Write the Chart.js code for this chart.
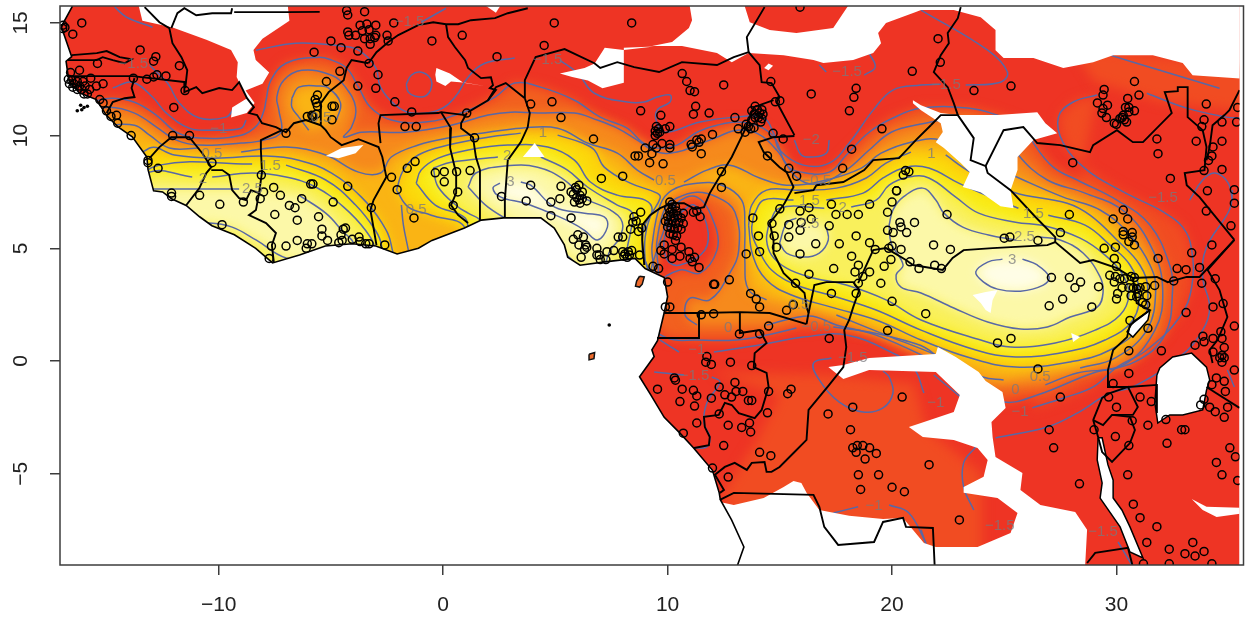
<!DOCTYPE html>
<html>
<head>
<meta charset="utf-8">
<style>body{margin:0;background:#fff}canvas{display:block}</style>
<script src="https://cdn.jsdelivr.net/npm/chart.js@4"></script>
</head>
<body>
<canvas id="map" width="1245" height="617"></canvas>
<script>
const xTicks = [-10, 0, 10, 20, 30];
const yTicks = [-5, 0, 5, 10, 15];

// contour rings, [lon, lat], null = gap for a label
const c_m05 = [[-15.74,11.48],[-14.77,11.66],[-13.75,11.48],[-12.77,10.9],[-11.88,10.15],[-10.86,9.89],[-9,10.02],[-8.29,10.46],[-7.98,11.13],[-7.89,11.57],[-7.67,12.46],[-7,13.21],[-5.54,13.48],[-4.97,13.35],[-4.3,13],[-3.77,12.15],[-3.24,11.26],[-2.31,10.69],[-0.8,10.6],[0.8,11],[2.31,11.71],[3.19,12.33],[4.35,12.15],[5.85,11.57],[7,10.82],[8.2,10.33],[8.87,9.71],[9.53,9.45],[10.42,9.58],[11.31,10.15],[12.2,10.46],[13.08,10.6],[14.06,10.42],[14.77,9.89],[15.3,8.69],[15.96,8.38],[17.2,8.38],[17.96,9.14],[18.98,10.15],[20.04,10.78],[21.29,11.22],[23.37,11.22],[24.7,10.91],[25.94,10.46],[26.3,9.67],[27.18,8.6],[28.25,8.03],[30.02,7.14],[31.49,6.03],[32.37,4.26],[32.5,3.15],[32.15,1.15],[30.82,-0.04],[28.96,-0.53],[26.47,-1.51],[24.97,-1.82],[23.28,-1.06],[21.64,0.49],[20.49,0.93],[18.98,1.29],[17.38,1.51],null,[15.74,1.46],[14.41,1.15],[13.08,0.93],[11.31,0.93],[9.98,1.02],[9.09,1.82],[9.53,3.37],[10.55,4.04],[11.44,3.9],[12.2,4.92],[12.11,6.03],[11.31,7.27],[10.33,6.92],[9.76,5.59],[9.31,4.26],[8.87,2.93],[5.1,2.93],[-2,2.93],[-7.76,2.93],[-15.74,6.25],[-17.07,9.36],[-15.74,11.48]];
const c_000 = [[-15.83,11.04],[-14.86,11.26],[-13.75,11],[-12.77,10.38],[-11.88,9.8],[-10.86,9.58],[-9,9.67],[-7.98,9.8],[-7.23,10.15],[-7.32,11.13],[-7.41,11.71],[-7.1,12.46],[-6.3,12.9],[-4.97,12.68],[-4.35,12.15],[-3.9,11.26],[-4.08,10.38],[-4.43,9.93],[-3.64,10.15],[-1.69,10.15],[0.35,10.46],[2,10.91],[3.02,11.04],[4.21,11],[5.85,11],[6.87,10.69],[7.76,10.33],[8.65,9.8],[9.53,9.27],[10.42,9.27],[11.31,9.58],[12.2,9.93],[13.08,10.24],[13.97,10.11],[14.86,9.36],[15.74,8.16],[16.63,7.85],[17.96,8.47],[18.98,9.36],[19.96,10.15],[21.29,10.51],[23.28,10.78],[25.06,10.24],[25.63,9.14],[26.92,8.03],[28.6,7.45],[30.38,6.61],[31.62,4.92],[32.06,3.15],[31.71,1.37],[30.29,-0.18],[28.25,-0.53],[26.83,-1.06],null,[24.17,-1.15],[21.95,-0.04],[19.29,1.15],[17.52,1.6],[16.32,2],[14.41,1.6],null,[11.31,1.6],[10.78,2.04],[11,2.79],[11.88,2.71],[12.77,3.9],[13.17,4.92],[13,6.61],[12.2,7.27],[11.31,7.49],[10.42,7.23],[9.89,6.78],[9.53,5.37],[9.31,3.37],[5.1,2.71],[-2,2.71],[-7.76,2.71],[-15.74,6.03],[-16.85,8.91],[-15.83,11.04]];
const c_050 = [[-15.08,10.46],[-13.75,10.46],[-13.08,10.02],[-12.2,9.45],[-10.86,9.45],null,[-9,9.27],[-7,9.49],[-5.23,9.14],[-3.77,8.38],[-2.79,8.34],[-2.31,9.05],[-1.11,9.58],[0.22,9.89],[2,10.15],[3.46,10.33],[5.1,10.33],[6.43,9.67],[7.76,9.22],[8.65,8.47],[9.4,8.03],null,[10.73,7.94],[11.75,8.47],[12.77,8.69],[14.1,8.12],[15.3,7.8],[17.07,8.03],[18.63,8.56],[19.51,9.22],[20.84,9.71],[22.17,9.8],[23.95,8.91],[25.85,8.03],[27.63,7.27],[29.27,6.7],[30.6,5.59],[31.49,4.26],[31.75,3.15],[31.35,1.37],[29.93,0.13],[28.38,-0.31],null,[24.97,-0.84],[24.04,-0.71],[21.95,0.27],[19.73,1.15],[17.52,2.04],null,[14.41,2.71],[13.61,3.15],[13.44,4.48],[13.44,6.03],[13.3,7.14],[12.42,7.8],[11.31,7.89],[10.2,7.58],[9.67,6.92],[9.31,5.14],[9.18,3.37],[5.1,2.48],[-2,2.48],[-7.76,2.48],[-15.3,5.8],[-15.08,10.46]];
const c_050_mali = [[-6.74,11.66],[-6.43,12.15],[-5.54,12.2],[-5.1,12.11],[-4.57,11.44],[-4.75,10.69],null,[-5.99,10.24],[-6.43,10.82],[-6.74,11.26],[-6.74,11.66]];
const c_100_west = [[-14.41,8.03],[-13.08,9.45],[-11.97,9.14],[-10.2,9],[-7.89,9.09],[-6.43,8.91],[-4.97,8.34],[-3.64,7.27],[-2.75,6.16],[-2.31,5.14],[-2.22,3.15],[-7.76,3.15],[-14.41,5.8],[-14.41,8.03]];
const c_150_west = [[-14.19,7.58],[-12.64,8.69],[-8.51,8.74],null,[-7,8.69],[-5.23,8.03],[-3.9,6.92],[-3.02,5.8],[-2.75,5.14],[-2.66,3.37],[-7.76,3.15],[-13.97,5.8],[-14.19,7.58]];
const c_200_west = [[-13.97,7.14],[-13.08,8.38],[-11.18,8.16],null,[-10.29,8.16],[-8.51,8.34],[-7,8.16],[-5.68,7.72],[-4.43,6.83],[-3.46,5.8],[-3.02,4.92],[-3.02,3.59],[-7.76,3.15],[-13.53,5.8],[-13.97,7.14]];
const c_250_west = [[-13.53,7.63],[-12.95,7.63],[-9.09,7.63],null,[-6.43,7.36],[-5.23,6.56],[-4.52,5.8],[-3.99,5.14],[-4.66,4.26],[-7,4.57],[-8.34,5.37],[-9.4,5.94],[-10.42,6.12],[-11.75,6.03],[-13.53,7.63]];
const c_100_nig = [[-2.08,7.58],[-1.77,8.47],[-1.11,9.14],[0.22,9.58],[2,9.93],[3.46,10.11],null,[5.1,10.02],[6.21,9.67],[6.74,9.36],[7.18,8.6],[8.34,7.89],[9.53,7.45],[9.67,7.23],[9.22,6.39],[9,5.5],[9,4.48],[9.18,3.37],[1.11,3.37],[0.98,5.9],[-0.53,6.47],[-1.55,6.83],[-2.08,7.58]];
const c_150_nig = [[-1.2,7.89],[-0.98,8.47],[-0.22,9],[1.11,9.36],[2.88,9.58],[4.66,9.49],[5.85,8.91],[6.56,7.94],[7.76,7.36],[9,7.14],[9.31,6.7],[8.96,5.94],[8.87,4.92],[9.09,3.59],[1.55,3.59],[1.11,5.37],[0.98,6.34],[-0.35,6.92],[-1.2,7.89]];
const c_200_nig = [[-0.44,8.56],[0.35,8.82],[2.44,9.05],null,[4.35,9.05],[5.54,8.47],[6.43,7.72],[7.76,6.92],[8.43,6.56],[8.34,5.68],[8.2,4.92],[8.29,3.59],[1.77,4.04],[1.69,6.16],[1.11,6.56],[0.67,6.83],[-0.22,7.72],[-0.44,8.56]];
const c_250_nig = [[1.11,7.72],[1.46,8.34],[2.75,8.65],[4.21,8.6],[5.41,8.03],[6.3,7.23],[7.45,6.7],[7.98,6.16],[7.85,5.45],[7.45,4.92],[6.87,3.81],[4.66,5.37],[3.33,6.03],[2,6.83],[1.11,7.72]];
const c_300_nig = [[3.46,7.94],[3.9,7.8],[4.97,6.83],[6.3,6.56],[7.18,6.39],[7.32,5.94],[6.87,5.37],[6.3,5.8],[5.68,6.16],[4.79,6.56],[3.64,7],[2.57,7.27],[2.22,7.67],[2.53,7.89]];
const c_100_car = [[13.61,6.03],[13.75,6.92],[14.41,7.58],[15.74,7.58],[17.52,7.67],[18.85,8.12],[19.73,8.78],[20.84,9.27],null,[22.39,9.14],[23.5,8.38],[25.41,7.49],[27.8,7],[28.82,6.47],[30.02,5.37],[31.04,4.26],[31.4,3.15],[31.09,1.6],[29.71,0.49],[27.94,-0.04],[25.5,-0.27],[23.5,0.13],[21.29,0.93],[19.29,1.82],[17.29,2.39],[15.52,2.93],[14.41,3.59],[13.79,4.7],[13.61,6.03]];
const c_150_car = [[13.84,6.47],[14.28,7.14],[15.61,7.14],null,[17.07,7.14],[18.71,7.45],[19.6,8.12],[20.62,8.6],[21.64,8.56],[22.97,7.89],[24.17,7.36],[25.63,6.78],null,[26.96,6.47],[28.6,6.03],[29.71,5.14],[30.6,4.26],[31,3.15],[30.73,1.82],[29.49,0.93],[27.72,0.4],[25.5,0.18],[23.73,0.49],[21.29,1.37],[19.29,2.26],[17.52,2.84],[15.74,3.37],[14.63,4.04],[14.06,4.92],[13.75,5.72],[13.84,6.47]];
const c_200_car = [[14.5,6.03],[14.99,6.78],[16.98,6.78],null,[18.18,6.83],[19.29,7.14],[19.87,7.8],[20.75,8.16],[21.64,8.12],[22.84,7.27],[23.86,6.56],[25.5,6.16],[26.83,5.99],[28.38,5.45],[29.49,4.7],[30.29,3.81],[30.55,2.93],[30.16,2.04],[29.05,1.37],[27.27,0.8],[25.28,0.62],[23.95,0.93],[21.29,1.82],[19.73,2.71],[17.96,3.37],[16.32,3.73],[15.3,4.12],[14.63,4.7],[14.41,5.37],[14.5,6.03]];
const c_250_car = [[14.99,5.23],[15.3,6.12],[15.74,6.34],null,[17.07,5.94],[17.16,5.37],[16.76,4.79],[16.05,4.61],[15.3,4.79],[14.99,5.23]];
const c_250_drc = [[19.87,6.03],[20.04,6.7],[20.49,7.27],[21.37,7.67],[21.95,7.14],[22.31,6.56],[23.15,5.94],[24.3,5.59],[25.5,5.37],null,[26.61,5.5],[27.49,5.37],[28.51,4.79],[29.27,3.73],[29.4,3.02],[29.14,2.39],[27.94,1.95],[26.92,1.51],[25.72,1.42],[24.26,1.73],[22.75,2.35],[21.29,3.02],[20.4,3.28],[20.18,3.81],[20.49,4.26],[19.96,5.23],[19.87,6.03]];
const c_300_drc = [[24.92,4.52],[24.26,4.39],[23.73,3.95],[24.08,3.5],[24.7,3.19],[25.72,3.1],[26.74,3.37],[27,3.73],[26.47,4.26],[25.81,4.52]];

// order matters: painted low to high
const fieldRings = [c_m05, c_000, c_050, c_050_mali, c_100_west, c_100_nig, c_100_car, c_150_west, c_150_nig, c_150_car, c_200_west, c_200_nig, c_200_car, c_250_west, c_250_nig, c_250_car, c_250_drc, c_300_nig, c_300_drc];
const fieldLevels = [-0.5, 0, 0.5, 0.5, 1, 1, 1, 1.5, 1.5, 1.5, 2, 2, 2, 2.5, 2.5, 2.5, 2.5, 3, 3];
const levelColors = {'-1':'#f14c22','-0.5':'#f2601f','0':'#f68a1c','0.5':'#fab414','1':'#fcd80b','1.5':'#f9ec18','2':'#f9f05c','2.5':'#fcf8a8','3':'#fffde6'};

// slightly lighter red patches below the first drawn contour
const underSouth = [[12,-0.5],[17,-0.6],[21,-1],[21.5,-3],[24,-5],[24,-8.8],[14,-8.5],[12.4,-6],[14,-3.5],[15,-1.5]];
const underNorthEast = [[28,14],[33,13.4],[36,12.9],[36,11],[32,11.5],[29,12.4]];
const underEast = [[29.14,11.8],[28.07,11.49],[27.41,10.82],[27.63,9.67],[28.69,8.47],[30.16,7.58],[31.04,7.14],[31.93,6.7],[32.95,5.94],[33.35,4.92],[33.35,3.28],[32.82,1.95],[31.35,0.49],[30.02,-0.27],[28.96,-1.15],[27.63,-1.64],[26.25,-2.08]];

// contours that only show as lines in the red area
const lowLines = [
[[-14.63,15.7],[-14.1,15.25],[-12.95,14.81]],
[[-13.08,13.12],[-12.28,12.33],[-11.75,11.44],[-10.86,10.78],[-9.67,10.82],[-9.31,11.22]],
[[-14.72,12.11],[-13.84,12.37],[-12.95,11.71],[-12.33,11],[-11.31,10.33],[-10.42,10.24],[-9,10.33],[-8.78,10.69]],
[[-8.34,13.79],[-6.56,14.1],[-4.52,13.97],[-3.77,13.79],[-3.02,13.04],[-2.79,12.15],[-2.13,11.35],[-1.42,11],[-0.22,11.13],[0.53,11.71],[1.11,12.59],[1.86,13.21],[3.19,13.44]],
[[5.19,13.35],[5.99,12.77],[6.74,11.88],[8.2,11.49],[8.96,11.49],[9.53,11.71],[10.11,11.8],[10.11,11.49],[9.53,11.13],[9.53,10.55],[9.89,10.15],[11.44,10.6],[12.99,10.82],[14.28,10.78],[14.72,10.11],[14.99,9.36],[16.05,8.69],[17.2,8.78],[18.09,9.67],[19.16,11.13],[20.04,12.02],[21.29,12.24],[22.17,12.28]],
[[23.28,12.24],[24.83,12.37],[25.14,12.82],[24.26,13.79],[21.29,15.57]],
[[16.76,13.13],[17.07,12.82]],
[[18.98,13.66],[19.25,13.04],[18.76,12.68]],
[[15.65,9.8],[15.96,9.14],[16.41,9.05],[17.07,9.22],[17.2,9.8]],
[[-1.64,12.28],[-1.42,12.68],[-1.02,12.82],[-0.58,12.55],[-0.53,12.11],[-0.8,11.75],[-1.24,11.75],[-1.55,11.93],[-1.64,12.28]],
[[-0.98,15.03],[0.13,15.65]],
[[29.71,13.57],[31.93,12.9],[34.59,12.1]],
underEast,
[[31.35,11.88],[33.13,11.22],[34.9,10.82],[35.48,10.78]],
[[35.17,7.58],[35.03,6.7],[34.01,5.05],[33.84,3.73],[34.15,2.39],[33.84,1.37],[32.82,0.18],[30.73,-1.15],[29.71,-1.42],[28.25,-2.31],[26.92,-2.93],[24.61,-3.41]],
[[33.26,7.14],[33.84,8.03],[34.37,8.34],[34.95,7.94],[35.17,7.14]],
[[9.67,0.93],[10.51,0.4]],
[[12.06,0.4],[14.1,0.71],[16.05,1.06],[17.96,1.15],[20.04,0.35],[20.97,-0.31],[21.42,-1.42]],
[[9.4,-0.49],[10.73,-0.62]],
[[11.97,-0.71],[12.33,-0.93],[11.75,-1.86],[11.62,-2.75],[11.88,-3.37],[11.75,-3.81],[11.22,-3.86]],
[[17.3,0.13],[16.5,-0.09],[16.76,-0.84],[17.65,-1.82],[18.71,-2.26],[19.6,-2.08],[20.04,-1.42],[19.87,-0.71],[19.6,-0.44]],
[[17.38,-6.74],[18.49,-6.47]],
[[19.87,-6.39],[20.75,-6.74],[21.51,-8.07]],
[[21.86,-0.62],[23.06,-1.6]],
[[23.73,-3.81],[23.19,-4.52],[23.19,-5.59],[23.64,-6.61]],
[[21.29,-7.49],[21.64,-8.47]],
[[30.07,-8.03],[30.73,-9.13]],
[[34.94,-0.4],[35.25,-1.15]],
[[10.55,6.56],[11.18,6.92],[11.75,6.03],[11.66,4.92],[10.55,4.26],[9.98,4.48],[9.89,5.59],[10.55,6.56]],
[[-1.86,6.92],[-1.77,6.03],[-1.55,4.92]]
];

const contourText = ['\u22121','0.5','1.5','2','2.5','\u22121.5','0.5','\u22121.5','\u22121.5','1','2','3','0.5','0.5','\u22121.5','\u22122','\u22120.5','1.5','2','2.5','1','\u22121.5','1.5','2.5','3','0.5','0','\u22121','\u22121.5','0.5','\u22120.5','0','\u22121','\u22121.5','\u22121.5','\u22121','\u22121','\u22121.5','\u22121.5'];
const contourTextAt = [[-10,10.3],[-10.3,9.2],[-7.7,8.65],[-10.7,8.1],[-8.5,7.65],[-13.8,13.2],[-5.45,10.8],[-1.5,15.03],[4.65,13.35],[4.45,10.1],[2.85,9.1],[3,7.95],[-1.2,6.7],[9.9,8],[18,12.85],[16.4,9.8],[16.63,8],[16.32,7.1],[17.8,6.8],[16.3,6.1],[21.75,9.2],[22.4,12.25],[26.3,6.55],[25.9,5.5],[25.35,4.5],[26.6,-0.7],[25.5,-1.3],[25.7,-2.25],[32.07,7.25],[15.85,2.5],[16.63,1.5],[12.7,1.45],[11.3,0.5],[11.2,-0.65],[18.25,0.13],[19.2,-6.43],[21.95,-1.85],[24.8,-7.3],[29.4,-7.6]];

// white areas: sea, lakes, no-data gaps
const ocean = [[-16.3,16.6],[-16.54,15.7],[-16.95,14.95],[-17,14.8],[-16.55,13.5],[-16.8,13.3],[-16.7,12.6],[-16.6,12.3],[-16.2,11.9],[-15.45,11.6],[-15,10.9],[-14.5,10.4],[-13.85,9.95],[-13.2,9.05],[-13.15,8.5],[-12.9,7.55],[-12.5,7.5],[-12.1,7.2],[-11.45,6.9],[-10.85,6.4],[-10.3,6],[-9.3,5.6],[-8.35,5],[-7.6,4.35],[-6.4,4.7],[-5.25,5.1],[-4.05,5.2],[-3,5.1],[-2.05,4.75],[-1.1,5],[-0.5,5.35],[0.95,5.9],[1.7,6.25],[2.7,6.35],[4.35,6.35],[4.95,5.9],[5.4,5.15],[5.55,4.6],[6.1,4.25],[7.2,4.4],[8.55,4.55],[9,4.1],[9.85,3.7],[10,2.85],[9.85,2.15],[9.55,0.9],[9.3,0.5],[9.4,0.2],[8.75,-0.7],[9.25,-1.5],[9.85,-2.5],[10.55,-3.2],[11.15,-3.85],[12,-4.85],[12.3,-5.85],[12.35,-6.15],[12.85,-7.05],[13.4,-8.25],[13.1,-9.1],[13.1,-11],[-19,-11],[-19,17],[-16.3,17]];
const gapCentral = [[17.16,-0.27],[17.83,-0.18],[18.98,0.13],[21.95,0.31],[22.04,0.62],[22.84,0.18],[23.86,-0.49],[24.17,-0.89],[24.92,-1.37],[25.06,-2.08],[24.43,-2.71],[24.48,-3.37],[24.61,-4.26],[25.81,-4.97],[25.72,-5.72],[26.61,-6.39],[28.16,-6.7],[28.69,-7.49],[28.6,-9.13],[28.6,-11],[12.3,-11],[12.33,-6.25],[12.95,-6.39],[14.28,-6.08],[15.17,-5.59],[15.61,-5.32],[15.96,-5.41],[16.19,-5.85],[16.76,-6.61],[18.09,-6.87],[19.6,-7.01],[20.49,-6.96],[21.42,-8.07],[21.95,-8.25],[23.81,-8.25],[25.28,-7.63],[25.59,-6.74],[24.7,-6.08],[23.19,-5.85],[23.19,-5.59],[24.08,-5.14],[24.26,-4.39],[23.81,-3.86],[22.75,-3.5],[21.37,-3.37],[20.75,-2.93],[21.29,-2.75],[22.75,-2.26],[23.02,-1.51],[21.95,-0.49],[18.98,-0.4],[17.83,-0.8]];
const gapNorth = [[10.86,16.5],[11.09,15.12],[10.95,14.77],[10.2,14.15],[9.31,13.97],[10.64,13.97],[12.2,13.66],[12.86,13.26],[13.61,13.66],[15.17,13.57],[16.5,13.35],[16.94,13.22],[18.27,13.35],[19.16,13.66],[19.51,14.1],[19.38,14.55],[19.73,15],[21.06,15.48],[21.29,15.57],[22.75,15.57],[23.95,15.25],[24.61,14.68],[24.61,13.79],[24.97,13.44],[26.3,13.44],[27.63,13],[28.96,13.26],[29.85,13.57],[31.62,13.57],[32.95,13.22],[33.39,12.68],[36.5,12.46],[36.5,16.5],[18.54,16.5],[17.38,14.77],[15.74,14.55],[14.55,14.68],[13.66,15.03],[13.2,16.5]];
const gapMali = [[-13.75,16.5],[-13.4,15.1],[-12.05,14.8],[-10.55,14.25],[-9.45,13.8],[-9.15,13.25],[-9.2,12.6],[-8.75,11.65],[-9.4,11.25],[-9.45,10.8],[-8.75,11],[-8.4,11.45],[-8.8,12],[-8.05,12.3],[-7.75,12.8],[-8.35,13.35],[-8.45,13.8],[-8.05,14.3],[-6.85,15.1],[-7,16.5]];
const gapNiger = [[5.2,12.75],[6.3,13],[6.75,13.2],[7.2,13.9],[8.05,13.8],[9.4,13.95],[8.05,13.9],[8.05,12.35],[7.1,12.1],[6.45,12.45],[5.75,12.6]];
const gapSudan = [[20.93,11.57],[21.29,11.35],[22.17,11],[22.93,10.91],[24.7,10.91],[26.47,11.04],[26.83,10.55],[27.36,10.11],[26.3,9.8],[25.59,9.05],[25.59,8.47],[25.28,7.58],[25.41,6.78],[24.83,6.87],[23.95,7.49],[23.15,7.72],[23.46,8.38],[23.06,8.78],[22.31,9.45],[21.95,9.71],[22.26,10.16],[22.17,10.55],[21.29,11.13],[20.93,11.44]];
const smallGaps = [
[[-0.3,13],[0.3,12.75],[0.9,12.35],[1.85,12.2],[1,12.35],[0.35,12.4],[0.1,12.2],[-0.3,12.4],[-0.35,12.7]],
[[1.55,16],[2.35,15.45],[2.7,16]],
[[14.3,13],[14.5,13.2],[14.7,13.1],[14.5,12.9]],
[[3.55,9.05],[4.08,9.67],[4.52,9.05]],
[[-5.23,9.09],[-4.52,9.45],[-3.55,9.58],[-3.9,9.22],[-4.66,9]],
[[23.59,2.93],[24.17,3.06],[24.7,3.15],[24.48,2.71],[24.39,2.13],[24.17,2.26],[23.95,2.57]],
[[27.98,1.24],[28.38,1.06],[28.07,0.84]],
[[33.35,-6.12],[34.01,-6.47],[36,-6.52],[36,-6.7],[34.46,-6.92],[33.84,-6.61]]
];
const lakes = [
[[31.8,-0.62],[31.93,-0.31],[32.5,0.18],[33.35,0.35],[34.01,-0.27],[34.15,-0.84],[34.01,-1.29],[33.84,-2.17],[32.95,-2.39],[32.37,-2.39],[31.84,-2.75],[31.71,-1.86],[31.8,-0.62]],
[[29.18,-3.41],[29.36,-3.41],[29.62,-4.61],[29.85,-5.28],[29.85,-6.08],[30.24,-6.61],[30.6,-7.36],[31.18,-8.74],[30.6,-8.47],[30.16,-7.36],[29.27,-6.08],[29.36,-5.41],[29.14,-4.39],[29.18,-3.41]],
[[31.49,2.26],[31.4,1.82],[30.73,1.06],[30.47,1.29],[30.73,1.73],[31.49,2.26]]
];
const islands = [
[[8.75,3.76],[8.96,3.73],[8.87,3.41],[8.75,3.28],[8.57,3.32],[8.62,3.55],[8.75,3.76]],
[[6.5,0.3],[6.75,0.38],[6.72,0.1],[6.5,0.05],[6.5,0.3]]
];

const borders = [
[[-13.3,15.7],[-12.64,15.03],[-12.2,14.77],[-12.06,14.1],[-11.66,13.48],[-11.4,12.9],[-11.49,12.11]],
[[-9.4,15.65],[-9.45,15.43],[-10.29,15.43],[-11,15.34],[-11.53,15.65],[-11.84,15.43],[-12.11,14.77]],
[[-9.31,15.48],[-7,15.48],[-5.5,15.49]],
[[-16.54,13.57],[-15.43,13.66],[-14.99,13.75],[-14.41,13.48],[-13.88,13.39],[-14.19,13.21],[-14.72,13.35],[-15.17,13.48],[-15.43,13.35],[-15.96,13.35],[-16.72,13.35]],
[[-16.76,12.64],[-15.61,12.64],[-13.84,12.64],[-11.44,12.37]],
[[-13.75,12.55],[-13.88,12.11],[-13.75,11.71],[-14.19,11.66],[-14.72,11.49],[-14.99,11]],
[[-11.53,12.37],[-11.53,11.93],[-11,12.15],[-10.73,11.88],[-9.98,12.11],[-9.4,12.02],[-9.09,12.37],[-8.74,11.66],[-8.43,11.26],[-8.65,11],[-8.29,10.91],[-8.07,10.55],[-7.45,10.38],[-7,10.15],[-6.65,10.55],[-6.12,10.69],[-5.45,10.46]],
[[-13.08,9],[-12.64,9.49],[-12.11,9.93],[-11.31,9.93],[-10.73,9.22],[-10.33,8.6],[-10.55,8.34],[-10.86,7.67],[-11.44,6.92]],
[[-10.33,8.47],[-9.84,8.47],[-9.53,8.25],[-9.4,7.58],[-9.09,7.23],[-8.78,7.14],[-8.56,7.58],[-8.2,7.45],[-8.07,8.38],[-8.12,9.36],[-8.12,9.8],[-7.18,10.24]],
[[-8.2,7.45],[-8.34,6.7],[-8.65,6.47],[-7.89,6.12],[-7.45,5.68],[-7.63,5.14],[-7.54,4.35]],
[[-3.33,13.21],[-4.08,13.35],[-4.3,13],[-4.43,12.46],[-5.1,11.93],[-5.45,11.44],[-5.45,10.46],[-5.23,10.24],[-5.01,9.93],[-4.52,9.58],[-3.77,9.84],[-2.88,9.49],[-2.71,9.05],[-2.53,8.16],[-3.1,7.14],[-3.24,6.7],[-3.1,5.9],[-2.97,5.14]],
[[-3.33,13.21],[-2.97,13.7],[-2.44,14.15],[-2,14.46],[-1.11,14.9],[-0.44,15.03],[0.13,14.94],[0.67,14.94],[1.24,15.12],[2.31,15.21],[2.88,15.43],[3.77,15.65]],
[[0.13,14.94],[0.22,14.37],[0.53,13.92],[0.98,13.35],[1.11,13],[1.69,12.55],[2.13,12.59],[2.22,12.24],[2.08,12.11],[2.35,12.02],[2,11.57],[1.11,11.04]],
[[-2.79,9.67],[-2.88,10.55],[-2.79,10.91],[-0.22,11],[-0.09,11.04],[0.98,10.91]],
[[-0.09,11.04],[0.35,10.33],[0.31,9.45],[0.44,8.91],[0.58,8.34],[0.58,7.45],[0.35,6.92],[0.67,6.47],[1.11,6.12]],
[[1.06,11],[0.8,10.55],[0.8,10.33],[1.33,9.93],[1.46,9.05],[1.64,8.47],[1.64,6.25]],
[[3.64,11.66],[3.86,11],[3.77,10.38],[3.46,9.71],[2.88,8.91],[2.75,7.14],[2.75,6.34]],
[[2,11.57],[2.35,12.15],[2.79,12.33],[3.64,11.66]],
[[3.64,11.66],[3.64,12.46],[4.12,13.48],[5.41,13.84],[6.74,13.21],[7,13],[7.76,13.26],[8.51,13.04],[9.62,12.82],[10.64,13.26],[12.2,13.13],[12.95,13.48],[13.61,13.7],[13.53,14.37],[14.32,15.7]],
[[13.61,13.7],[14.1,13.13],[14.19,12.37],[14.63,12.33],[14.99,11.71],[14.86,11.49],[15.65,10.02]],
[[14.72,11.57],[13.84,11.26],[13.44,10.24],[12.86,9.05],[12.42,8.34],[11.88,7.45],[11.62,6.83],[11.22,6.74],[10.73,7],[10.2,7],[9.67,6.78],[9.22,6.47],[8.87,6.03],[8.87,5.37],[8.96,4.26]],
[[15.65,9.98],[14.72,9.93],[14.06,9.71],[14.28,9.27],[14.99,8.6],[15.3,8.38],[15.61,7.72],[15.21,7],[14.94,6.61],[14.55,6.12],[14.72,5.37],[14.72,4.79],[15.17,3.9],[16.1,3.02],[16.19,2.39],[16.28,2.13],[16.19,1.64]],
[[9.85,2.13],[11.4,2.13],[13.22,2.17],[14.55,2.13],[16.19,1.64]],
[[11.4,2.13],[11.4,1.02],[9.53,1.02]],
[[13.22,2.17],[13.22,1.24],[14.1,1.37],[14.41,0.8],[13.88,0.35],[13.84,-0.27],[14.41,-0.53],[14.5,-1.15],[14.19,-2.17],[13.88,-2.53],[13.17,-2.31],[12.86,-1.95],[12.55,-1.86],[12.28,-2.39],[11.62,-2.48],[11.66,-2.93],[11.88,-3.37],[11.84,-3.73],[11.18,-3.86]],
[[16.28,2.13],[16.54,3.37],[17.07,3.5],[18.27,3.5],[18.54,3.15],[18.27,2.39],[18.09,1.82],[17.87,1.37],[17.96,0.62],[17.83,-0.27],[17.2,-1.06],[16.28,-2.17],[16.19,-3.5],[15.61,-4.08],[14.99,-4.7],[14.63,-4.92],[14.41,-4.92],[14.32,-4.48],[13.75,-4.52],[13.53,-4.83],[12.99,-4.52],[12.55,-4.7],[12.11,-5.05],[12.51,-5.72],[12.33,-5.85]],
[[18.49,3.46],[19.16,4.92],[19.73,5.01],[20.62,4.48],[20.93,4.26],[22.26,4.04],[22.7,4.57],[23.19,4.92],[24.48,5.01],[26.92,5.14],[27.27,5.28],[28.38,4.35],[28.96,4.48],[30.02,4.12],[30.73,3.68],[31.8,3.73],[32.28,3.5],[33.13,3.73],[33.7,3.73],[35.25,5.37]],
[[21.73,10.46],[21.06,9.8],[20.31,9],[19.16,8.91],[18.76,8.47],[17.83,7.94],[16.63,7.8],[16.5,7.58],[15.65,7.45]],
[[23.06,15.7],[22.93,15.21],[22.48,14.55],[22.53,14.1],[22.17,13.57],[21.86,12.82],[22.48,12.15],[22.75,11.44],[22.93,10.91],[22.17,10.91],[21.73,10.46]],
[[22.93,10.91],[23.64,9.89],[23.5,8.91],[24.17,8.65],[24.97,10.24],[25.85,10.38],[26.47,9.67],[27.49,9.58],[28.82,9.27],[28.96,9.58],[30.02,10.24],[30.73,9.71],[31.18,9.71],[32.46,11],[32.15,11.93],[32.73,11.97],[32.73,12.15],[33.17,12.15],[33.17,10.82],[33.84,10.24],[34.01,9.49],[33.92,8.47],[33.04,8.34],[33.13,7.8],[33.7,7.27],[35.25,5.37]],
[[24.17,8.65],[24.26,8.34],[25.28,7.58],[26.39,6.39],[27.27,5.5],[27.27,5.28]],
[[35.48,12.02],[35.03,11.13],[34.81,10.91],[34.28,10.46],[34.15,9.49],[34.01,8.91]],
[[35.25,5.37],[34.06,4.04],[34.59,3.15],[34.94,1.95],[34.5,0.93],[34.15,0.49],[34.28,-0.09]],
[[30.73,3.68],[30.9,2.57],[31.49,2.26],[30.6,1.6],[30.47,1.06],[29.85,0.49],[29.62,-0.4],[29.62,-1.15],[30.51,-1.15],[31.8,-1.06],[31.8,-2.31]],
[[28.96,-2.62],[29.36,-1.64],[29.71,-1.42],[30.51,-1.15],[30.95,-2.04],[30.73,-2.39],[29.8,-2.39],[29.4,-2.84],[28.96,-2.62]],
[[29.8,-2.39],[30.6,-2.48],[30.82,-3.06],[30.6,-3.64],[29.8,-4.48],[29.36,-4.04],[29.18,-3.37],[28.96,-2.62]],
[[34.01,-1.15],[35.48,-2.08]],
[[28.69,-8.96],[29.05,-8.51],[30.51,-8.29],[30.73,-9.13]],
[[12.33,-6.16],[12.95,-5.85],[16.5,-5.94],[16.76,-6.47],[16.98,-7.36],[17.6,-8.16],[19.2,-8.03],[19.6,-7.14],[20.49,-6.96],[20.62,-7.36],[21.82,-7.41],[21.86,-8.25],[21.9,-9.13]]
];

// survey sites
const sitesWest = [[-16.94,14.9],[-16.85,14.8],[-16.95,14.75],[-16.1,15],[-16.5,14.5],[-13.5,13.8],[-12.8,13.5],[-12.9,13.3],[-11.75,13.1],[-15.4,13.2],[-16.2,12.9],[-16.6,12.8],[-16.7,12.5],[-16.55,12.45],[-16.45,12.3],[-16.65,12.3],[-16.5,12.15],[-16.3,12.4],[-16.2,12.2],[-16.05,12.4],[-15.95,12.2],[-16.1,12.05],[-16.3,12.05],[-16,11.85],[-15.7,12.55],[-13.8,12.55],[-13.2,12.5],[-12.9,12.6],[-12.75,12.7],[-12.35,12.65],[-11.5,12],[-12,11.25],[-15.15,12.3],[-15.45,12.2],[-15.75,12.05],[-15.85,11.85],[-15.3,11.6],[-15.15,11.45],[-15,11.1],[-14.55,10.9],[-14.8,10.85],[-14.5,10.55],[-13.9,10],[-12.05,10],[-11.3,10],[-10.3,8.8],[-13.15,8.9],[-13.15,8.8],[-12.7,8.55],[-12.1,7.45],[-12.1,7.3],[-10.85,7.35],[-9.95,6.95],[-9.85,6.05],[-8.9,7.05],[-5.75,13.7],[-5.7,11.6],[-5.6,11.8],[-5.6,11.3],[-6.05,10.85],[-5.85,10.9],[-5.65,10.95],[-7,10.1],[-8.1,8.25],[-8,7.5],[-7.55,7.7],[-7.25,7.35],[-8.15,7.2],[-5.9,7.85],[-5.8,7.85],[-6.85,6.9],[-6.6,6.8],[-6.3,7.2],[-7.5,6.5],[-6.5,6.25],[-5.55,6.4],[-4.9,7.05],[-5.4,5.85],[-5.4,5.55],[-4.55,5.6],[-4.45,5.85],[-4.35,5.9],[-4.5,5.35],[-4.65,5.25],[-5.15,5.35],[-6.5,5.35],[-7,5.1],[-7.65,5.1],[-7.75,4.55],[-6.05,5.2],[-5.85,5.2],[-6.1,5],[-4.05,5.4],[-3.75,5.5],[-3.7,5.3],[-3.45,5.2],[-3.3,5.2],[-2.6,5.15],[-3.2,6.8],[-1.3,6.35]];
const sitesSahel = [[-4.3,15.55],[-4.25,15.35],[-3.5,15.5],[-2.2,15],[-3.7,14.9],[-3.4,14.95],[-3,14.9],[-3.6,14.65],[-3.3,14.7],[-4.25,14.6],[-4.2,14.45],[-3.9,14.45],[-3,14.45],[-2.5,14.45],[-3.05,14.35],[-3.25,14.3],[-3.5,14.3],[-2.45,14.2],[-3.25,14.05],[-5,14.2],[-4.55,13.9],[-3.8,13.75],[-0.5,14.2],[0.85,14.45],[4.95,15],[4.5,14],[2.4,13.5],[-3.3,13.2],[-4.6,12.85],[-2.9,12.7],[-5.2,12.4],[-3.8,12.2],[-3,12.1],[-5.65,11.45],[-4.95,11.3],[-4.85,11.3],[-2.15,11.5],[-1.4,11.05],[1.05,11],[3.9,11.4],[4.85,11.5],[5.25,10.8],[-5.8,10.85],[-4.95,10.7],[-1.7,10.4],[-1.2,10.4],[1.4,9.9],[6.7,9.85],[7.05,8.1],[8,8.2],[-1.25,8.85],[-1.6,8.55],[-2.3,8.15],[-2.05,7.6],[-4.25,7.75],[-0.35,8.35],[0.05,8.4],[0.6,8.4],[1.2,8.45],[0.05,7.95],[0.65,7.5],[2.6,7.3],[3.9,7.8],[5.25,7.75],[0.45,6.9]];
const sitesNigeria = [[8.4,15],[15.9,15.7],[10.65,12.75],[10.85,12.4],[11,12],[11.2,11.95],[12.5,12.25],[14.6,12.4],[16.4,11.85],[18.4,12.1],[18.3,11.7],[18.1,11.1],[20.9,12.85],[14.8,11.5],[15,11.55],[8.8,11.1],[9.7,10.9],[11.25,11.3],[11.15,10.95],[11.85,11],[13,10.8],[13.9,11.3],[13.75,11.1],[13.85,10.95],[14,11.15],[14.1,11],[14.2,11.15],[14.25,10.95],[14.05,10.8],[14.2,10.75],[13.9,10.8],[14.15,10.6],[13.75,10.7],[13.15,10.3],[13.45,10.15],[13.7,10.3],[13.85,10.35],[13.5,10.5],[13.6,10.4],[14.7,10.1],[15.15,9.85],[14.45,9.1],[19.55,10.3],[18.2,9.4],[17.8,8.55],[15.4,8.55],[15.75,8.2],[9.5,10.4],[9.6,10.3],[9.45,10.2],[9.55,10.1],[9.65,10.15],[9.45,10],[9.9,10.3],[10.1,10.4],[9,9.45],[9.35,9.6],[9.5,9.45],[9.75,9.65],[10.1,9.6],[10.1,9.45],[9.3,9.2],[8.55,9.1],[8.7,9.1],[9.2,8.8],[9.8,8.75],[11.1,9.5],[11.05,9.6],[11.3,9.8],[11.5,9.85],[11.4,9.7],[11.5,9.2],[12,10.05],[12.4,8.4],[12.4,7.7],[20.5,8.25],[20.6,8.45],[20.75,8.4],[20.2,7.55]];
const sitesDelta = [[3.7,7.1],[4.8,7.05],[5.2,7.2],[4.8,6.45],[5.7,6.35],[5.95,7.6],[5.8,7.4],[5.9,7.7],[6.05,7.8],[6.2,7.5],[6.1,7.35],[5.95,7.25],[6.05,7.15],[5.85,7.05],[6.2,7.2],[5.7,7.5],[6.4,7.1],[6.1,7],[6,5.6],[6.25,5.5],[5.8,5.4],[6.05,5.15],[6.35,5.15],[6.4,5.05],[6.3,4.95],[6.15,4.6],[6.85,5],[6.85,4.7],[6.95,4.7],[7,4.5],[7.3,4.85],[7.6,4.9],[7.25,4.5],[8,4.85],[8.1,4.75],[8.25,4.85],[8.05,4.65],[8.2,4.6],[8.3,4.7],[8.4,4.9],[8.75,4.7],[7.8,5.5],[8,5.5],[8.35,5.85],[8.8,6.6],[8.5,6.4],[8.6,6.2],[8.85,5.9],[8.7,5.75],[8.45,6.15]];
const sitesCameroon = [[10.1,7.05],[10.2,6.95],[10.05,6.8],[10.2,6.75],[10.35,6.85],[10.1,6.6],[10.25,6.55],[10.4,6.65],[10,6.4],[10.15,6.4],[10.3,6.35],[10.45,6.45],[10.6,6.35],[10.7,6.55],[9.9,6.2],[10.05,6.15],[10.2,6.2],[10.35,6.1],[10.5,6.15],[10.7,6.1],[10,5.95],[10.15,5.9],[10.3,5.85],[10.45,5.9],[10.6,5.85],[10.1,5.65],[10.25,5.6],[10.4,5.55],[11.15,6.6],[11.3,6.65],[11.45,6.4],[10.35,5.35],[10.6,5.05],[9.85,5.15],[9.7,4.9],[9.85,4.75],[10.2,4.95],[10.2,4.55],[10.55,4.65],[10.95,4.85],[11,4.55],[11.2,4.6],[11.1,4.4],[11.4,4.15],[9.35,4.2],[9.6,4.1],[10,3.5],[12.05,3.4],[9.9,2.4],[10.1,2.4],[11.5,2.05],[12.05,2.1]];
const sitesCar = [[13.8,6.35],[14.05,5.55],[14.1,4.85],[13.5,4.75],[12.75,3.6],[12.1,3.4],[13.7,3],[13.95,2.75],[14.1,2.4],[15,6.75],[14.65,6.1],[14.75,5.55],[14.85,5.05],[15.4,6.05],[15.4,5.5],[15.9,6.65],[16.3,6.8],[15.95,6.15],[15.9,5.8],[16.4,6.3],[15.9,4.75],[16.6,5.2],[17.2,6],[17.3,6.95],[17.5,6.5],[18,6.5],[18.5,6.5],[19,6.95],[19.8,6.6],[20,7.05],[18.4,5.55],[17.65,5.2],[18.2,4.65],[19,5.25],[20.35,6.15],[20.4,5.95],[20.65,5.7],[21,6.15],[19.8,5.8],[20.05,5.7],[22.45,6.5],[21.85,5.15],[22.6,4.95],[20,5.1],[19.85,5],[20.4,4.95],[19.25,4.95],[19.95,4.5],[19.65,4.2],[20.8,4.4],[21.2,4.1],[21.9,4.25],[22.2,4.1],[17.4,4.1],[18.35,3.95],[18.5,4.25],[18.7,3.75],[19,3.95],[16.3,3.85],[15.7,3.45],[17.3,3],[18.4,3],[18.5,3.45],[19.5,3.45],[20,2.65],[21.5,2.1],[15.6,2.5],[15.3,2.25],[14.5,1.55],[13.2,1.2],[14.1,1.2],[19.8,1.35],[17.2,1],[24.7,0.8],[25.3,1],[20.2,7.55]];
const sitesEast = [[22.05,14.3],[22.15,13.25],[23.65,12],[25.3,12.2],[30.8,12.4],[29.45,12.05],[29.4,11.8],[31,11.8],[30.5,11.65],[29.15,11.45],[29.6,11.35],[29.4,11.2],[29.35,11],[29.55,10.8],[30.4,11.25],[30.55,11.25],[30.8,11.1],[30.55,11.05],[30.25,10.8],[30.35,10.7],[30.15,10.75],[30.3,10.9],[30,10.5],[29.9,10.55],[30.45,10.6],[31.8,9.85],[31.85,9.2],[33.55,9.75],[34.7,9.75],[34,11.4],[35.4,11.25],[33.9,10.7],[33.8,10.4],[34.7,10.6],[35.35,10.6],[34.3,9.5],[34.25,9.1],[34.1,8.9],[33.9,8.45],[34.7,8.5],[32.4,8.1],[34.05,7.55],[35.25,7.6],[28.05,8.8],[25,5.45],[25.25,5.5],[26.5,5.35],[27.9,6.5],[27.5,5.7],[29.45,5],[29.95,5.05],[29.9,4.55],[29.85,6.3],[30.3,6.7],[30.5,6.3],[30.3,5.75],[30.7,5.7],[30.3,5.6],[30.7,5.5],[30.55,5.3],[30.8,5.15],[30,4.2],[29.7,3.8],[29.95,3.75],[29.9,3.5],[30.15,3.65],[30.35,3.65],[30.65,3.75],[30.8,3.7],[30.25,3.25],[30.55,3.25],[30.75,3.25],[30.9,3.2],[31.05,3.25],[30.95,3],[30.9,2.85],[30.65,2.9],[31.3,3.3],[31.7,3.35],[31.35,2.9],[31.15,2.6],[31.3,2.5],[30.05,3],[30,2.75],[29.2,3.3],[28.9,2.4],[27,2.45],[27.6,2.75],[28.15,3.25],[28.4,3.5],[27.9,3.7],[27.1,3.7],[30.6,1.8],[31.4,1.45],[26.5,-0.35],[31.85,4.55],[32.7,4.1],[33.1,4.05],[33.7,4.15],[32.55,3.55],[33.8,3.45],[34.4,3.65],[33.35,4.8],[34.25,5.15],[33.1,2.15],[34.3,2.4],[34.75,2.55],[34,6.65],[35.1,6],[35.25,7],[35.25,1.55],[33.85,1.1],[33.9,0.85],[34.3,1],[34.65,1.3],[34.7,1],[34.8,0.6],[34.3,0.4],[34.7,0.25],[34.8,0.15],[34.6,0.15],[34.7,-0.05],[33.5,0.7],[32,0.45],[30.55,0.45],[30.55,-0.55],[29.85,-1],[35.25,-0.4],[34.45,-0.75],[34.8,-0.9],[34.25,-1.05]];
const sitesSouth = [[11.75,0.2],[11.7,-0.05],[11.95,-0.15],[12.8,-0.05],[13.75,-0.2],[10.3,-0.75],[10.35,-0.85],[9.55,-1.25],[10.65,-1.25],[11.15,-1.3],[11.3,-1.55],[12.3,-1.15],[13,-0.95],[12.55,-1.5],[12.85,-1.6],[13.05,-1.35],[13.35,-1.35],[11.95,-1.65],[10.55,-1.8],[11.2,-2],[13.6,-1.75],[13.75,-1.75],[14.5,-1.35],[15.5,-1.25],[15.35,-1.45],[14.45,-2.3],[12.3,-2.35],[11.3,-2.75],[12.7,-2.85],[13.3,-2.95],[13.65,-2.75],[13.7,-3.15],[10.7,-3.2],[12.5,-3.75],[14.1,-4.05],[14.6,-4.2],[12,-4.75],[12.7,-5.15],[17.15,-2.35],[18.25,-2.05],[20.45,-1.6],[18.15,-3.05],[18.25,-3.85],[18.45,-3.75],[18.7,-3.75],[19,-3.85],[18.4,-4.05],[19.3,-4.1],[18.8,-4.35],[18.5,-5.05],[19.4,-5.05],[18.6,-5.7],[20,-5.6],[20.55,-5.8],[21.65,-4.6],[23,-7.05],[27,-3.05],[27.2,-3.85],[28.35,-5.45],[27.5,-1.6],[29.65,-1.6],[30,-2.05],[29,-3.05],[29.95,-3.35],[30.55,-3.75],[30.5,-5.05],[30.7,-2.65],[31.05,-1.6],[31.55,-1.8],[31.4,-2.85],[32.2,-2.6],[32.9,-3.05],[33.05,-3.05],[32.25,-3.65],[35.05,-3.85],[35.3,-4.25],[34.45,-4.5],[34.7,-5.05],[33.9,-1.7],[33.75,-1.95],[34.15,-2.05],[34.4,-2.25],[34.8,-2.5],[34.95,-2.05],[34.85,-1.35],[30.75,-6.35],[31.05,-6.95],[31.8,-7.35],[31.35,-8.05],[32.35,-8.35],[33.05,-8.55],[33.5,-8.65],[33.9,-8.45],[33.4,-8.05],[31.2,-9],[32.35,-9],[34.25,-9],[35.4,-5.3]];
const islets = [[-16.3,11.1],[-16.1,11.15],[-16,11.25],[-15.85,11.3],[-16.15,11.35],[7.4,1.6]];

const toPts = a => a.map(p => p ? {x: p[0], y: p[1]} : {x: NaN, y: NaN});
const axisColor = '#3c3c3c';
const lineColor = '#5868a6';

function ringPath(ctx, meta) {
  ctx.beginPath();
  let started = false;
  meta.data.forEach(el => {
    if (isNaN(el.x) || isNaN(el.y)) return;
    if (!started) { ctx.moveTo(el.x, el.y); started = true; } else ctx.lineTo(el.x, el.y);
  });
  ctx.closePath();
}

const datasets = [];
[underSouth, underNorthEast, underEast].forEach(r => datasets.push({data: toPts(r), showLine: false, pointRadius: 0, order: 41, heat: levelColors['-1']}));
fieldRings.forEach((r, i) => datasets.push({data: toPts(r), showLine: true, pointRadius: 0, tension: 0.4, borderColor: lineColor, borderWidth: 1.5, order: 40, heat: levelColors[String(fieldLevels[i])]}));
lowLines.forEach(r => datasets.push({data: toPts(r), showLine: true, pointRadius: 0, tension: 0.4, borderColor: lineColor, borderWidth: 1.5, order: 40}));
[gapCentral, gapNorth, gapMali, gapNiger, gapSudan, ...smallGaps].forEach(r => datasets.push({data: toPts(r), showLine: false, pointRadius: 0, order: 30, mask: '#ffffff'}));
lakes.forEach(r => datasets.push({data: toPts(r), showLine: true, pointRadius: 0, borderColor: '#000', borderWidth: 1.5, order: 25, mask: '#ffffff'}));
datasets.push({data: toPts(ocean), showLine: true, pointRadius: 0, borderColor: '#000', borderWidth: 1.6, order: 24, mask: '#ffffff'});
islands.forEach(r => datasets.push({data: toPts(r), showLine: true, pointRadius: 0, borderColor: '#111', borderWidth: 1.5, order: 23, mask: '#ee6a2a'}));
borders.forEach(r => datasets.push({data: toPts(r), showLine: true, pointRadius: 0, borderColor: '#000', borderWidth: 1.9, order: 20}));
datasets.push({data: toPts(islets), showLine: false, pointRadius: 1.8, pointBackgroundColor: '#000', pointBorderWidth: 0, order: 5});
[sitesWest, sitesSahel, sitesNigeria, sitesDelta, sitesCameroon, sitesCar, sitesEast, sitesSouth].forEach(s => datasets.push({data: toPts(s), showLine: false, pointRadius: 4, pointBackgroundColor: 'transparent', pointBorderColor: '#000', pointBorderWidth: 1.5, order: 1}));

const fieldPlugin = {
  id: 'field',
  beforeDatasetsDraw(chart) {
    const {ctx, chartArea: a} = chart;
    ctx.save();
    ctx.beginPath();
    ctx.rect(a.left, a.top, a.right - a.left, a.bottom - a.top);
    ctx.clip();
    ctx.fillStyle = '#ee3424';
    ctx.fillRect(a.left, a.top, a.right - a.left, a.bottom - a.top);
    ctx.filter = 'blur(6px)';
    chart.data.datasets.forEach((ds, i) => {
      if (!ds.heat) return;
      ringPath(ctx, chart.getDatasetMeta(i));
      ctx.fillStyle = ds.heat;
      ctx.fill();
    });
    ctx.restore();
  },
  beforeDatasetDraw(chart, args) {
    const ds = chart.data.datasets[args.index];
    if (!ds.mask) return;
    const {ctx, chartArea: a} = chart;
    ctx.save();
    ctx.beginPath();
    ctx.rect(a.left, a.top, a.right - a.left, a.bottom - a.top);
    ctx.clip();
    ringPath(ctx, args.meta);
    ctx.fillStyle = ds.mask;
    ctx.fill();
    ctx.restore();
  },
  afterDatasetsDraw(chart) {
    const {ctx, scales: {x, y}} = chart;
    ctx.save();
    ctx.font = '15px "Liberation Sans"';
    ctx.fillStyle = 'rgba(120,120,125,0.75)';
    ctx.textAlign = 'center';
    ctx.textBaseline = 'middle';
    contourText.forEach((t, i) => ctx.fillText(t, x.getPixelForValue(contourTextAt[i][0]), y.getPixelForValue(contourTextAt[i][1])));
    ctx.restore();
  },
  afterDraw(chart) {
    const {ctx, chartArea: a} = chart;
    ctx.save();
    ctx.strokeStyle = axisColor;
    ctx.lineWidth = 1.5;
    ctx.strokeRect(a.left, a.top, a.right - a.left + 4, a.bottom - a.top);
    ctx.restore();
  }
};

new Chart(document.getElementById('map'), {
  type: 'scatter',
  data: {datasets},
  plugins: [fieldPlugin],
  options: {
    responsive: false,
    animation: false,
    events: [],
    layout: {padding: {top: 6}},
    plugins: {legend: {display: false}, tooltip: {enabled: false}},
    scales: {
      x: {
        type: 'linear', min: -17.07, max: 35.48,
        afterBuildTicks: s => { s.ticks = xTicks.map(v => ({value: v})); },
        afterFit: s => { s.height = 52; s.paddingLeft = 0; s.paddingRight = 0; },
        grid: {drawOnChartArea: false, tickLength: 10, color: axisColor, lineWidth: 1.5},
        border: {display: false},
        ticks: {font: {family: 'Liberation Sans', size: 21}, color: '#222', padding: 18, maxRotation: 0, autoSkip: false, callback: v => String(v).replace('-', '\u2212')}
      },
      y: {
        type: 'linear', min: -9.05, max: 15.75,
        afterBuildTicks: s => { s.ticks = yTicks.map(v => ({value: v})); },
        afterFit: s => { s.width = 60; s.paddingTop = 0; s.paddingBottom = 0; },
        grid: {drawOnChartArea: false, tickLength: 10, color: axisColor, lineWidth: 1.5},
        border: {display: false},
        ticks: {font: {family: 'Liberation Sans', size: 21}, color: '#222', padding: 17, crossAlign: 'center', minRotation: 90, maxRotation: 90, autoSkip: false, callback: v => String(v).replace('-', '\u2212')}
      }
    }
  }
});
</script>
</body>
</html>
